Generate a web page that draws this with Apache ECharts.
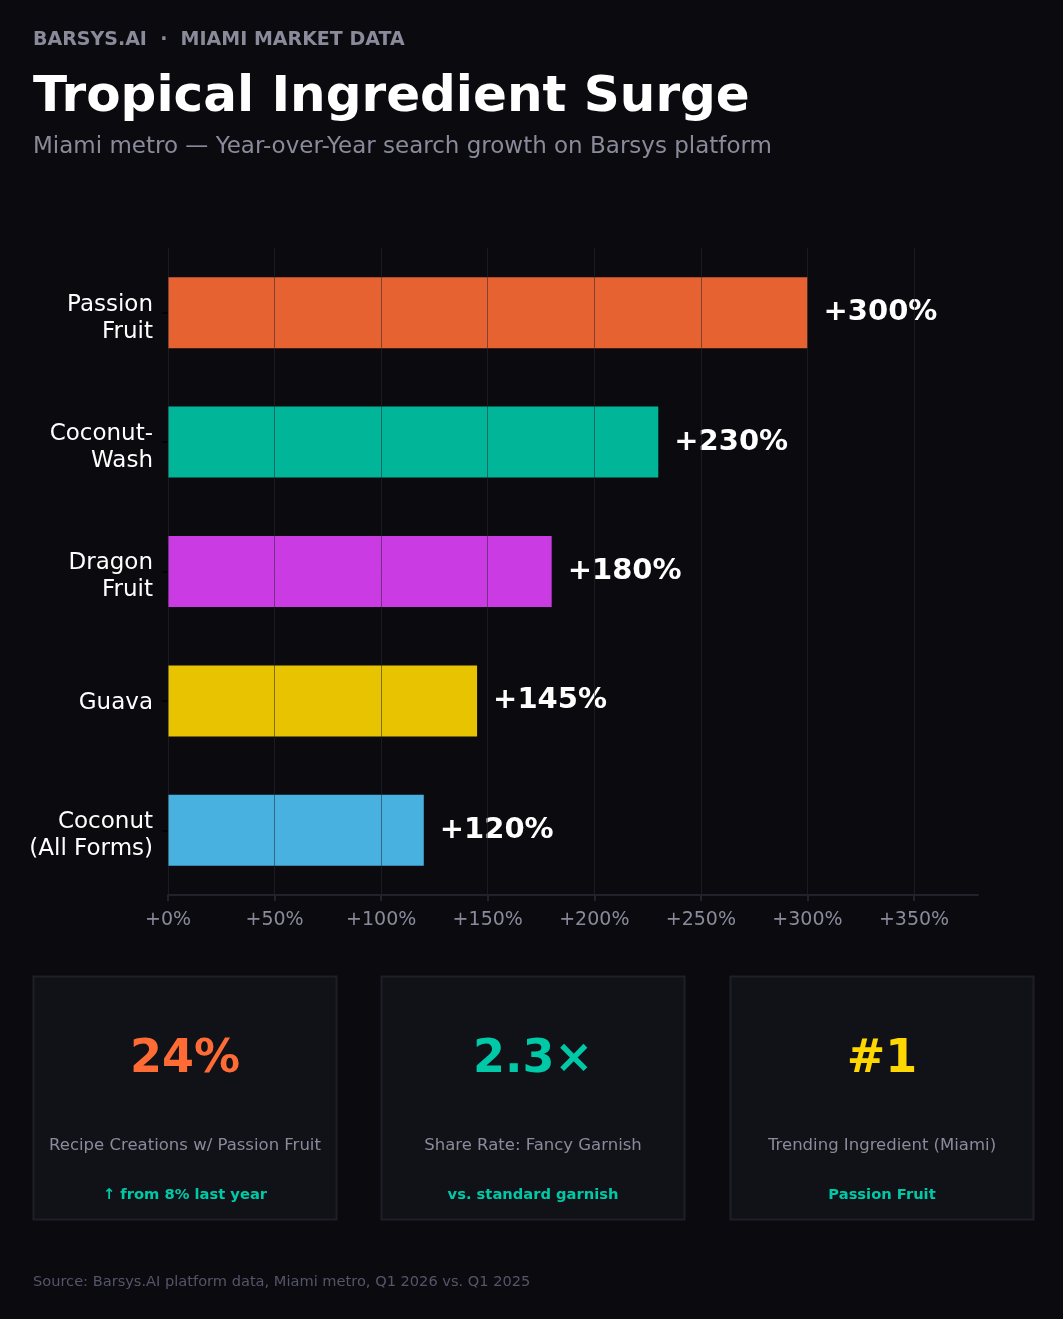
<!DOCTYPE html>
<html>
<head>
<meta charset="utf-8">
<script src="https://cdn.jsdelivr.net/npm/echarts@6/dist/echarts.min.js"></script>
<style>
  html, body { margin: 0; padding: 0; background: #0a0a0f; }
  #main { width: 1063px; height: 1319px; }
</style>
</head>
<body>
<div id="main"></div>
<script>
// data
var ingredients = ['Passion\nFruit', 'Coconut-\nWash', 'Dragon\nFruit', 'Guava', 'Coconut\n(All Forms)'];
var growth = [300, 230, 180, 145, 120];
var barColors = ['#FF6B35', '#00C9A7', '#E040FB', '#FFD700', '#4FC3F7'];
var xTicks = [0, 50, 100, 150, 200, 250, 300, 350];

// cards at the bottom
var cardValues = ['24%', '2.3×', '#1'];
var cardColors = ['#FF6B35', '#00C9A7', '#FFD700'];
var cardLabels = ['Recipe Creations w/ Passion Fruit', 'Share Rate: Fancy Garnish', 'Trending Ingredient (Miami)'];
var cardNotes = ['↑ from 8% last year', 'vs. standard garnish', 'Passion Fruit'];

var FONT = '"DejaVu Sans", sans-serif';
var myChart = echarts.init(document.getElementById('main'), null, { renderer: 'canvas' });

// hex -> rgba with alpha (bars are slightly see-through)
function fade(hex, a) {
  var r = parseInt(hex.substr(1, 2), 16), g = parseInt(hex.substr(3, 2), 16), b = parseInt(hex.substr(5, 2), 16);
  return 'rgba(' + r + ',' + g + ',' + b + ',' + a + ')';
}

var cardX = [33, 381, 730];
var cardW = 304, cardTop = 976, cardH = 243;
var cards = [];
for (var i = 0; i < cardValues.length; i++) {
  var cx = cardX[i] + cardW / 2;
  cards.push({
    type: 'rect', shape: { x: cardX[i] + 0.5, y: cardTop + 0.5, width: cardW - 1, height: cardH },
    style: { fill: '#111218', stroke: '#1e1f27', lineWidth: 2 }
  });
  cards.push({
    type: 'text', x: cx, y: 1060,
    style: { text: cardValues[i], fill: cardColors[i], font: 'bold 46px ' + FONT, textAlign: 'center', textVerticalAlign: 'middle' }
  });
  cards.push({
    type: 'text', x: cx, y: 1146,
    style: { text: cardLabels[i], fill: '#8a8a9a', font: '16.5px ' + FONT, textAlign: 'center', textVerticalAlign: 'middle' }
  });
  cards.push({
    type: 'text', x: cx, y: 1195,
    style: { text: cardNotes[i], fill: '#00C9A7', font: 'bold 14.7px ' + FONT, textAlign: 'center', textVerticalAlign: 'middle' }
  });
}

var option = {
  backgroundColor: '#0a0a0f',
  animation: false,
  textStyle: { fontFamily: FONT },
  grid: { left: 168, right: 85, top: 248, bottom: 424 },
  xAxis: {
    type: 'value',
    min: 0,
    max: 380,
    interval: 50,
    z: 5,
    axisLine: { show: true, lineStyle: { color: '#22222c', width: 2 } },
    axisTick: { show: true, length: 6, customValues: xTicks, lineStyle: { color: '#22222c', width: 2 } },
    axisLabel: {
      customValues: xTicks,
      color: '#8a8a9a', fontSize: 19, margin: 16, fontFamily: FONT,
      formatter: function (v) { return '+' + v + '%'; }
    },
    splitLine: { show: true, lineStyle: { color: 'rgba(42,42,53,0.55)', width: 1 } }
  },
  yAxis: {
    type: 'category',
    inverse: true,
    data: ingredients,
    axisLine: { show: false },
    axisTick: { show: true, alignWithLabel: true, length: 6, lineStyle: { color: '#000000', width: 1.5 } },
    axisLabel: {
      color: '#ffffff', fontSize: 23, lineHeight: 27, margin: 15, align: 'right', fontFamily: FONT,
      // small spacer line on top so the label block sits a little low, like the reference
      formatter: function (v) {
        var parts = v.split('\n');
        var sp = parts.length > 1 ? '{s| }' : '{t| }';
        return sp + '\n' + parts.map(function (s) { return '{n|' + s + '}'; }).join('\n');
      },
      rich: {
        s: { fontSize: 1, lineHeight: 11 },
        t: { fontSize: 1, lineHeight: 4 },
        n: { color: '#ffffff', fontSize: 23, lineHeight: 27, fontFamily: FONT }
      }
    },
    splitLine: { show: false }
  },
  series: [{
    type: 'bar',
    data: growth.map(function (v, i) {
      return { value: v, itemStyle: { color: fade(barColors[i], 0.9) } };
    }),
    barWidth: 71,
    label: {
      show: true, position: 'right', distance: 16,
      color: '#ffffff', fontSize: 29, fontWeight: 'bold', fontFamily: FONT,
      formatter: function (p) { return '+' + p.value + '%'; }
    }
  }],
  graphic: [
    { type: 'text', x: 33, y: 40,
      style: { text: 'BARSYS.AI  ·  MIAMI MARKET DATA', fill: '#8a8a9a', font: 'bold 19px ' + FONT, textVerticalAlign: 'middle' } },
    { type: 'text', x: 33, y: 98,
      style: { text: 'Tropical Ingredient Surge', fill: '#ffffff', font: 'bold 50px ' + FONT, textVerticalAlign: 'middle' } },
    { type: 'text', x: 33, y: 147,
      style: { text: 'Miami metro — Year-over-Year search growth on Barsys platform', fill: '#8a8a9a', font: '23px ' + FONT, textVerticalAlign: 'middle' } },
    { type: 'text', x: 33, y: 1282,
      style: { text: 'Source: Barsys.AI platform data, Miami metro, Q1 2026 vs. Q1 2025', fill: '#55556a', font: '14.6px ' + FONT, textVerticalAlign: 'middle' } }
  ].concat(cards)
};

myChart.setOption(option);
</script>
</body>
</html>
